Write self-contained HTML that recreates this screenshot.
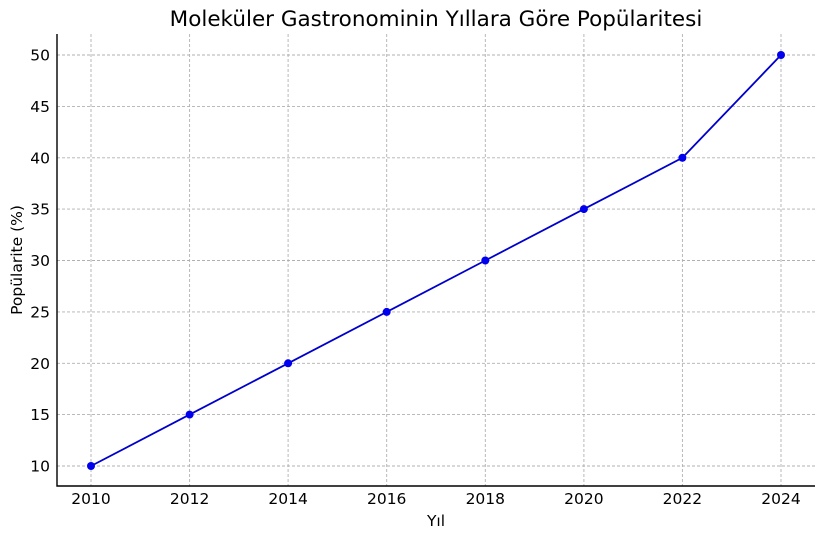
<!DOCTYPE html>
<html><head><meta charset="utf-8"><style>body{margin:0;background:#fff}</style></head><body>
<svg width="825" height="539" xmlns="http://www.w3.org/2000/svg" font-family="'DejaVu Sans','Liberation Sans',sans-serif">
<rect width="825" height="539" fill="#fff"/>
<g stroke="#b0b0b0" stroke-width="0.9" stroke-dasharray="3,2">
<line x1="91" y1="34" x2="91" y2="486"/><line x1="189.6" y1="34" x2="189.6" y2="486"/><line x1="288.1" y1="34" x2="288.1" y2="486"/><line x1="386.7" y1="34" x2="386.7" y2="486"/><line x1="485.3" y1="34" x2="485.3" y2="486"/><line x1="583.9" y1="34" x2="583.9" y2="486"/><line x1="682.4" y1="34" x2="682.4" y2="486"/><line x1="781" y1="34" x2="781" y2="486"/>
<line x1="57" y1="466" x2="815" y2="466"/><line x1="57" y1="414.6" x2="815" y2="414.6"/><line x1="57" y1="363.3" x2="815" y2="363.3"/><line x1="57" y1="311.9" x2="815" y2="311.9"/><line x1="57" y1="260.5" x2="815" y2="260.5"/><line x1="57" y1="209.1" x2="815" y2="209.1"/><line x1="57" y1="157.8" x2="815" y2="157.8"/><line x1="57" y1="106.4" x2="815" y2="106.4"/><line x1="57" y1="55" x2="815" y2="55"/>
</g>
<path d="M57 34V486H815" fill="none" stroke="#000" stroke-width="1.4"/>
<polyline points="91,466 189.6,414.6 288.1,363.3 386.7,311.9 485.3,260.5 583.9,209.1 682.4,157.8 781,55" fill="none" stroke="#0000cc" stroke-width="1.8"/>
<g fill="#0000ee"><circle cx="91" cy="466" r="4"/><circle cx="189.6" cy="414.6" r="4"/><circle cx="288.1" cy="363.3" r="4"/><circle cx="386.7" cy="311.9" r="4"/><circle cx="485.3" cy="260.5" r="4"/><circle cx="583.9" cy="209.1" r="4"/><circle cx="682.4" cy="157.8" r="4"/><circle cx="781" cy="55" r="4"/></g>
<g font-size="15.5" text-anchor="middle" fill="#000">
<text x="91" y="504">2010</text><text x="189.6" y="504">2012</text><text x="288.1" y="504">2014</text><text x="386.7" y="504">2016</text><text x="485.3" y="504">2018</text><text x="583.9" y="504">2020</text><text x="682.4" y="504">2022</text><text x="781" y="504">2024</text>
</g>
<g font-size="15.5" text-anchor="end" fill="#000">
<text x="50" y="471.5">10</text><text x="50" y="420">15</text><text x="50" y="368.8">20</text><text x="50" y="317.4">25</text><text x="50" y="266">30</text><text x="50" y="214.6">35</text><text x="50" y="163.3">40</text><text x="50" y="111.9">45</text><text x="50" y="60.5">50</text>
</g>
<text x="436" y="526" font-size="15.5" text-anchor="middle">Yıl</text>
<text transform="translate(22,260) rotate(-90)" font-size="15.5" text-anchor="middle">Popülarite (%)</text>
<text x="436" y="26" font-size="21.5" text-anchor="middle">Moleküler Gastronominin Yıllara Göre Popülaritesi</text>
</svg>
</body></html>
